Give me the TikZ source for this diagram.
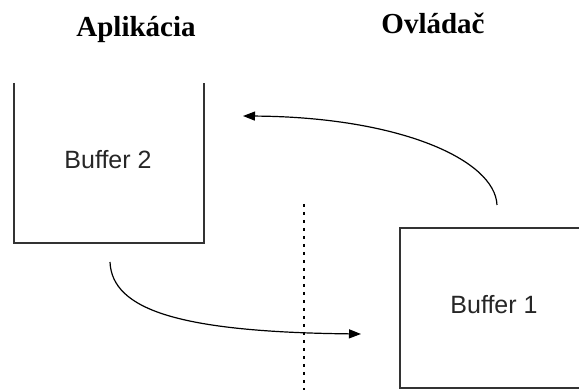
\documentclass[tikz,border=0pt]{standalone}
\usepackage{fontspec}
\setmainfont{Liberation Serif}
\newfontfamily\labelfont{Liberation Sans}
\usetikzlibrary{arrows.meta}
\begin{document}
\begin{tikzpicture}[x=1pt,y=-1pt,
  title/.style={anchor=base,inner sep=0pt,font=\fontsize{29}{34}\selectfont\bfseries},
  bufname/.style={anchor=base,inner sep=0pt,font=\labelfont\fontsize{25}{30}\selectfont,text=black!85},
  wall/.style={line width=1.4pt,draw=black!80},
  flow/.style={line width=1.2pt,-{Triangle[length=12pt,width=9pt]}},
  divider/.style={line width=1.3pt,dash pattern=on 3pt off 5pt}]
  \useasboundingbox (0,0) rectangle (579,390);
  \clip (0,0) rectangle (579,390);
  \fill[white] (0,0) rectangle (579,390);

  % column headings
  \node[title] (app) at (136,37) {Aplikácia};
  \node[title] (drv) at (433,34) {Ovládač};

  % Buffer 2: open at the top
  \draw[wall] (14,83) -- (14,243) -- (204,243) -- (204,83);
  \node[bufname] (b2) at (108,169) {Buffer 2};

  % Buffer 1: runs past the right edge
  \draw[wall] (600,228) -- (400,228) -- (400,388) -- (600,388);
  \node[bufname] (b1) at (494,314) {Buffer 1};

  % boundary between application and driver
  \coordinate (divtop) at (304,204);
  \coordinate (divbot) at (304,392);
  \draw[divider] (divtop) -- (divbot);

  % transfer arrows
  \coordinate (outB1) at (497,205);
  \coordinate (inB2) at (243,116);
  \coordinate (outB2) at (110,262);
  \coordinate (inB1) at (361,334);
  \draw[flow] (outB1) .. controls (495,160) and (400,117) .. (inB2);
  \draw[flow] (outB2) .. controls (112,310) and (180,332) .. (inB1);
\end{tikzpicture}
\end{document}
